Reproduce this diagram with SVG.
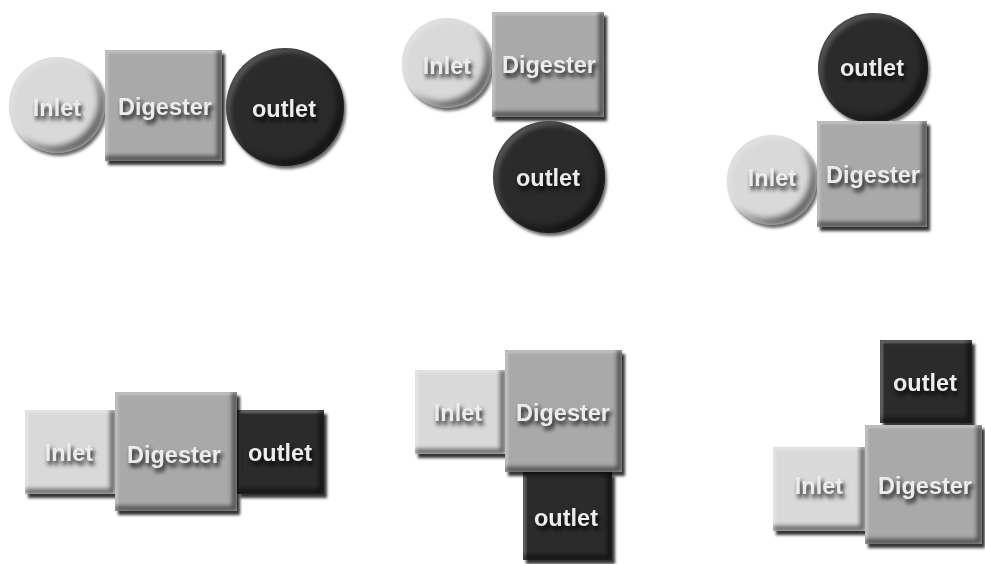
<svg xmlns="http://www.w3.org/2000/svg" width="985" height="564" viewBox="0 0 985 564">
  <defs>
    <!-- raised bevel for square blocks: drop shadow + inner light/dark edges -->
    <filter id="bevelBox" x="-15%" y="-15%" width="140%" height="140%" color-interpolation-filters="sRGB">
      <feGaussianBlur in="SourceAlpha" stdDeviation="1.8" result="sb"/>
      <feOffset in="sb" dx="3" dy="4" result="so"/>
      <feFlood flood-color="#000" flood-opacity="0.8"/>
      <feComposite in2="so" operator="in" result="shadow"/>
      <feOffset in="SourceAlpha" dx="-5" dy="-5" result="up"/>
      <feComposite in="SourceAlpha" in2="up" operator="out" result="brEdge"/>
      <feGaussianBlur in="brEdge" stdDeviation="2" result="brBlur"/>
      <feComposite in="brBlur" in2="SourceAlpha" operator="in" result="brIn"/>
      <feFlood flood-color="#000" flood-opacity="0.55"/>
      <feComposite in2="brIn" operator="in" result="dark"/>
      <feOffset in="SourceAlpha" dx="3" dy="3" result="down"/>
      <feComposite in="SourceAlpha" in2="down" operator="out" result="tlEdge"/>
      <feGaussianBlur in="tlEdge" stdDeviation="1.2" result="tlBlur"/>
      <feComposite in="tlBlur" in2="SourceAlpha" operator="in" result="tlIn"/>
      <feFlood flood-color="#fff" flood-opacity="0.3"/>
      <feComposite in2="tlIn" operator="in" result="light"/>
      <feMerge>
        <feMergeNode in="shadow"/>
        <feMergeNode in="SourceGraphic"/>
        <feMergeNode in="light"/>
        <feMergeNode in="dark"/>
      </feMerge>
    </filter>
    <!-- rounded bevel for disc blocks -->
    <filter id="bevelDisc" x="-15%" y="-15%" width="140%" height="140%" color-interpolation-filters="sRGB">
      <feGaussianBlur in="SourceAlpha" stdDeviation="1.5" result="sb"/>
      <feOffset in="sb" dx="2" dy="3" result="so"/>
      <feFlood flood-color="#000" flood-opacity="0.6"/>
      <feComposite in2="so" operator="in" result="shadow"/>
      <feOffset in="SourceAlpha" dx="-6" dy="-6" result="up"/>
      <feComposite in="SourceAlpha" in2="up" operator="out" result="brEdge"/>
      <feGaussianBlur in="brEdge" stdDeviation="3" result="brBlur"/>
      <feComposite in="brBlur" in2="SourceAlpha" operator="in" result="brIn"/>
      <feFlood flood-color="#000" flood-opacity="0.6"/>
      <feComposite in2="brIn" operator="in" result="dark"/>
      <feOffset in="SourceAlpha" dx="4" dy="4" result="down"/>
      <feComposite in="SourceAlpha" in2="down" operator="out" result="tlEdge"/>
      <feGaussianBlur in="tlEdge" stdDeviation="2.5" result="tlBlur"/>
      <feComposite in="tlBlur" in2="SourceAlpha" operator="in" result="tlIn"/>
      <feFlood flood-color="#fff" flood-opacity="0.25"/>
      <feComposite in2="tlIn" operator="in" result="light"/>
      <feMerge>
        <feMergeNode in="shadow"/>
        <feMergeNode in="SourceGraphic"/>
        <feMergeNode in="light"/>
        <feMergeNode in="dark"/>
      </feMerge>
    </filter>
    <!-- soft drop shadow under labels -->
    <filter id="textShadow" x="-20%" y="-40%" width="140%" height="200%" color-interpolation-filters="sRGB">
      <feGaussianBlur in="SourceAlpha" stdDeviation="2.3"/>
      <feOffset dx="2" dy="4" result="b"/>
      <feFlood flood-color="#000" flood-opacity="0.85"/>
      <feComposite in2="b" operator="in"/>
      <feMerge>
        <feMergeNode/>
        <feMergeNode in="SourceGraphic"/>
      </feMerge>
    </filter>
  </defs>
  <style>
    .inlet { fill: #d9d9d9; }
    .digester { fill: #a9a9a9; }
    .outlet { fill: #2b2b2b; }
    .box { filter: url(#bevelBox); }
    .disc { filter: url(#bevelDisc); }
    text {
      font-family: "Liberation Sans", Arial, Helvetica, sans-serif;
      font-weight: bold;
      font-size: 23.5px;
      fill: #ececec;
      text-anchor: middle;
      filter: url(#textShadow);
    }
  </style>

  <rect width="985" height="564" fill="#ffffff"/>

  <!-- Layout 1: horizontal, round ends -->
  <g id="l1-inlet">
    <circle class="inlet disc" cx="57" cy="105" r="48"/>
    <text x="57" y="116">Inlet</text>
  </g>
  <g id="l1-digester">
    <rect class="digester box" x="105" y="50" width="117" height="111"/>
    <text x="165" y="115">Digester</text>
  </g>
  <g id="l1-outlet">
    <circle class="outlet disc" cx="285" cy="107" r="59"/>
    <text x="284" y="117">outlet</text>
  </g>

  <!-- Layout 2: outlet below -->
  <g id="l2-inlet">
    <circle class="inlet disc" cx="447" cy="63" r="45"/>
    <text x="447" y="74">Inlet</text>
  </g>
  <g id="l2-digester">
    <rect class="digester box" x="492" y="12" width="112" height="105"/>
    <text x="549" y="73">Digester</text>
  </g>
  <g id="l2-outlet">
    <circle class="outlet disc" cx="549" cy="177" r="56"/>
    <text x="548" y="186">outlet</text>
  </g>

  <!-- Layout 3: outlet above -->
  <g id="l3-outlet">
    <circle class="outlet disc" cx="873" cy="68" r="55"/>
    <text x="872" y="76">outlet</text>
  </g>
  <g id="l3-inlet">
    <circle class="inlet disc" cx="772" cy="180" r="45"/>
    <text x="772" y="186">Inlet</text>
  </g>
  <g id="l3-digester">
    <rect class="digester box" x="817" y="121" width="110" height="106"/>
    <text x="873" y="183">Digester</text>
  </g>

  <!-- Layout 4: horizontal, square ends -->
  <g id="l4-inlet">
    <rect class="inlet box" x="25" y="410" width="90" height="84"/>
    <text x="69" y="461">Inlet</text>
  </g>
  <g id="l4-outlet">
    <rect class="outlet box" x="237" y="410" width="87" height="84"/>
    <text x="280" y="461">outlet</text>
  </g>
  <g id="l4-digester">
    <rect class="digester box" x="115" y="392" width="122" height="119"/>
    <text x="174" y="463">Digester</text>
  </g>

  <!-- Layout 5: square outlet below -->
  <g id="l5-inlet">
    <rect class="inlet box" x="415" y="370" width="90" height="84"/>
    <text x="458" y="421">Inlet</text>
  </g>
  <g id="l5-outlet">
    <rect class="outlet box" x="523" y="472" width="89" height="88"/>
    <text x="566" y="526">outlet</text>
  </g>
  <g id="l5-digester">
    <rect class="digester box" x="505" y="350" width="117" height="122"/>
    <text x="563" y="421">Digester</text>
  </g>

  <!-- Layout 6: square outlet above -->
  <g id="l6-outlet">
    <rect class="outlet box" x="880" y="340" width="92" height="83"/>
    <text x="925" y="391">outlet</text>
  </g>
  <g id="l6-inlet">
    <rect class="inlet box" x="773" y="447" width="92" height="84"/>
    <text x="819" y="494">Inlet</text>
  </g>
  <g id="l6-digester">
    <rect class="digester box" x="865" y="425" width="117" height="119"/>
    <text x="925" y="494">Digester</text>
  </g>
</svg>
